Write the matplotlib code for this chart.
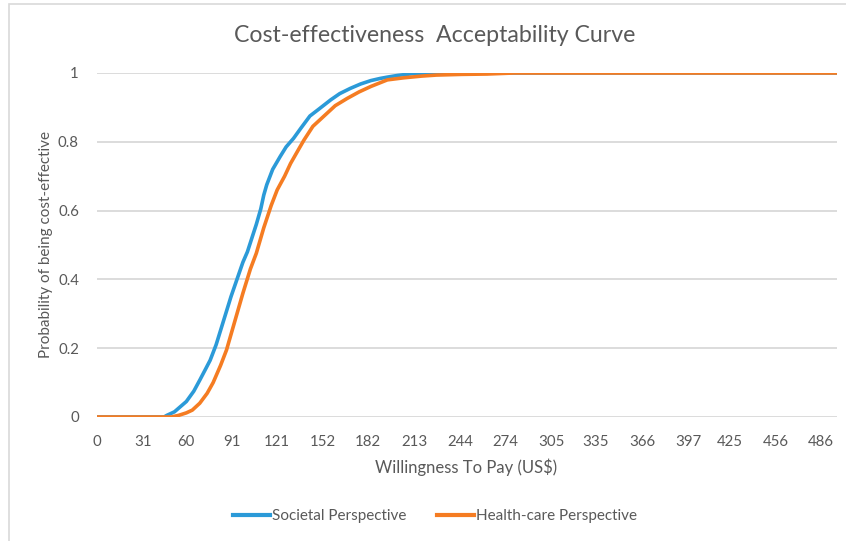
import matplotlib
matplotlib.use('Agg')
import matplotlib.pyplot as plt
from matplotlib.patches import Rectangle

plt.rcParams['font.family'] = ['Lato', 'DejaVu Sans']

# willingness to pay (US$) and probability of being cost-effective
wtp_soc = [0, 45, 47, 52, 56, 60, 65, 69, 73, 76, 80, 85, 90, 94, 98, 101, 104, 107, 110, 112,
           114, 118, 123, 127, 132, 137, 143, 149, 157, 163, 170, 177, 184, 190, 195, 202, 212, 230, 497]
prob_soc = [0, 0, 0.005, 0.015, 0.03, 0.045, 0.075, 0.107, 0.14, 0.165, 0.21, 0.28, 0.35, 0.40, 0.45, 0.48,
            0.52, 0.56, 0.605, 0.645, 0.675, 0.72, 0.757, 0.785, 0.81, 0.84, 0.875, 0.895, 0.922, 0.94, 0.955,
            0.968, 0.978, 0.984, 0.988, 0.993, 0.998, 1, 1]

wtp_hc = [0, 50, 55, 60, 64, 69, 74, 78, 83, 87, 92, 98, 103, 107, 112, 117, 121, 126, 130, 135, 139,
          145, 152, 160, 168, 176, 184, 195, 206, 218, 228, 245, 262, 280, 497]
prob_hc = [0, 0, 0.005, 0.012, 0.02, 0.04, 0.069, 0.1, 0.15, 0.195, 0.27, 0.36, 0.43, 0.476, 0.55, 0.615,
           0.66, 0.70, 0.737, 0.775, 0.805, 0.845, 0.873, 0.905, 0.926, 0.945, 0.961, 0.98, 0.986, 0.991,
           0.994, 0.996, 0.997, 1.0, 1.0]

x_ticks = [0, 31, 60, 91, 121, 152, 182, 213, 244, 274, 305, 335, 366, 397, 425, 456, 486]
y_ticks = [0, 0.2, 0.4, 0.6, 0.8, 1]

txt = '#595959'
grid = '#D9D9D9'

fig = plt.figure(figsize=(8.46, 5.41), dpi=100)
ax = fig.add_axes([97 / 846, 1 - 417 / 541, (837 - 97) / 846, 344 / 541])

# chart area border (only top/left visible in the image)
fig.patches.append(Rectangle((9 / 846, -0.1), 2, 1.1 - 4 / 541, transform=fig.transFigure,
                             fill=False, edgecolor=grid, linewidth=1.2))

for yv in y_ticks:
    ax.axhline(yv, color=grid, linewidth=1.3, zorder=0)

ax.plot(wtp_soc, prob_soc, color='#2B9AD8', linewidth=2.6, label='Societal Perspective', zorder=3)
ax.plot(wtp_hc, prob_hc, color='#F57C22', linewidth=2.6, label='Health-care Perspective', zorder=4)

ax.set_xlim(0, 497)
ax.set_ylim(0, 1)
ax.set_xticks(x_ticks)
ax.set_xticklabels([str(v) for v in x_ticks])
ax.set_yticks(y_ticks)
ax.set_yticklabels(['0', '0.2', '0.4', '0.6', '0.8', '1'])
ax.tick_params(length=0, colors=txt, labelsize=10.8)
ax.tick_params(axis='x', pad=13)
ax.tick_params(axis='y', pad=13)
for s in ax.spines.values():
    s.set_visible(False)
ax.set_facecolor('none')

fig.text(434.5 / 846, 1 - 35 / 541, 'Cost-effectiveness  Acceptability Curve', ha='center', va='center',
         fontsize=16.7, color=txt)
fig.text(466 / 846, 1 - 467 / 541, 'Willingness To Pay (US$)', ha='center', va='center',
         fontsize=12, color=txt)
fig.text(46 / 846, 1 - 245 / 541, 'Probability of being cost-effective', ha='center', va='center',
         rotation=90, fontsize=11, color=txt)

leg = fig.legend(loc='center', bbox_to_anchor=(435 / 846, 1 - 516 / 541), ncol=2, frameon=False,
                 fontsize=11, handlelength=2.4, handletextpad=0.15, columnspacing=2.0)
for t in leg.get_texts():
    t.set_color(txt)
for h in leg.get_lines():
    h.set_linewidth(3)

fig.savefig('out.png', dpi=100)
